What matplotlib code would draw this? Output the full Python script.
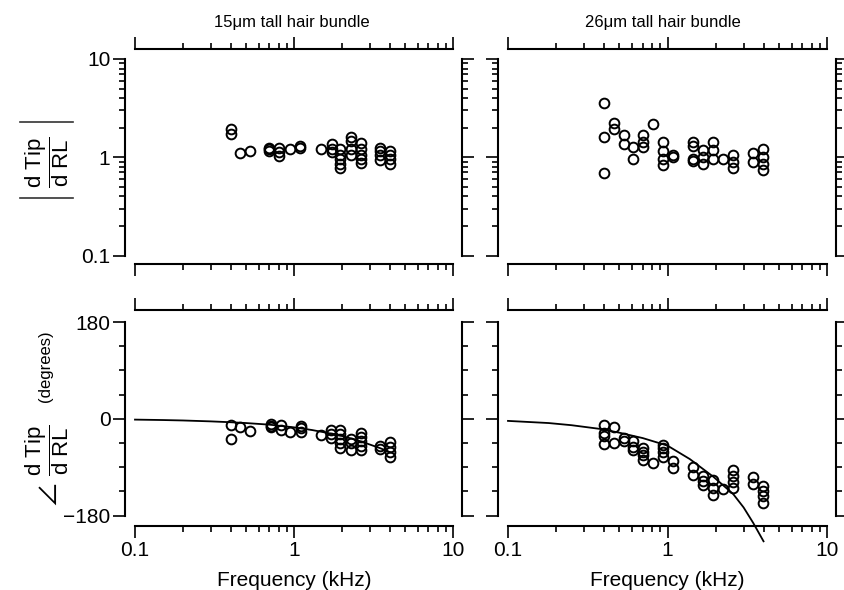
import numpy as np
import matplotlib
matplotlib.use('Agg')
import matplotlib.pyplot as plt
from matplotlib.lines import Line2D
from matplotlib.ticker import LogLocator, MultipleLocator, FixedLocator, FixedFormatter, NullFormatter

plt.rcParams['font.family'] = ['Liberation Sans', 'DejaVu Sans']
plt.rcParams['mathtext.fontset'] = 'custom'
plt.rcParams['mathtext.rm'] = 'Liberation Sans'
plt.rcParams['mathtext.it'] = 'Liberation Sans:italic'
plt.rcParams['mathtext.bf'] = 'Liberation Sans:bold'

# ---------------- data ----------------
titles = ['15\u03bcm tall hair bundle', '26\u03bcm tall hair bundle']
xlabel = 'Frequency (kHz)'

# 15 um bundle: magnitude |dTip/dRL|
mag15_f = [0.40, 0.40, 0.46, 0.53, 0.70, 0.70, 0.70, 0.81, 0.81, 0.81, 0.94, 1.09, 1.09,
           1.47, 1.74, 1.74, 1.74, 1.96, 1.96, 1.96, 1.96, 1.96, 2.27, 2.27, 2.27, 2.27,
           2.63, 2.63, 2.63, 2.63, 2.63, 3.45, 3.45, 3.45, 3.45, 4.0, 4.0, 4.0, 4.0]
mag15_v = [1.93, 1.72, 1.10, 1.15, 1.25, 1.20, 1.17, 1.25, 1.12, 1.03, 1.20, 1.30, 1.25,
           1.22, 1.35, 1.22, 1.12, 1.20, 1.05, 0.95, 0.85, 0.77, 1.60, 1.45, 1.20, 1.05,
           1.40, 1.20, 1.05, 0.95, 0.87, 1.25, 1.15, 1.05, 0.93, 1.15, 1.05, 0.95, 0.85]

# 15 um bundle: phase (degrees)
ph15_f = [0.40, 0.40, 0.46, 0.53, 0.72, 0.72, 0.72, 0.83, 0.83, 0.95, 1.11, 1.11, 1.11,
          1.47, 1.70, 1.70, 1.70, 1.96, 1.96, 1.96, 1.96, 1.96, 2.27, 2.27, 2.27,
          2.63, 2.63, 2.63, 2.63, 2.63, 3.45, 3.45, 4.0, 4.0, 4.0, 4.0]
ph15_v = [-12, -37, -16, -22, -10, -13, -16, -11, -20, -24, -14, -18, -24,
          -30, -20, -28, -35, -20, -28, -38, -46, -54, -38, -46, -58,
          -26, -34, -42, -50, -58, -50, -56, -44, -52, -62, -72]

fit15_f = [0.1, 0.15, 0.2, 0.3, 0.4, 0.5, 0.7, 1.0, 1.3, 1.6, 2.0, 2.5, 3.0, 3.5, 4.0]
fit15_v = [-1.6, -2.4, -3.2, -4.9, -6.5, -8, -11, -16, -21, -26, -32, -40, -48, -55, -62]

# 26 um bundle: magnitude
mag26_f = [0.40, 0.40, 0.40, 0.46, 0.46, 0.53, 0.53, 0.61, 0.61, 0.70, 0.70, 0.70, 0.81,
           0.94, 0.94, 0.94, 0.94, 1.09, 1.09, 1.45, 1.45, 1.45, 1.45, 1.68, 1.68, 1.68,
           1.94, 1.94, 1.94, 2.24, 2.59, 2.59, 2.59, 3.42, 3.42, 3.98, 3.98, 3.98, 3.98]
mag26_v = [3.6, 1.59, 0.69, 2.24, 1.93, 1.68, 1.35, 1.26, 0.95, 1.68, 1.43, 1.26, 2.2,
           1.43, 1.16, 0.97, 0.83, 1.05, 1.0, 1.43, 1.29, 0.95, 0.91, 1.18, 1.0, 0.86,
           1.43, 1.18, 0.95, 0.95, 1.05, 0.9, 0.77, 1.1, 0.9, 1.2, 1.0, 0.86, 0.74]

# 26 um bundle: phase
ph26_f = [0.40, 0.40, 0.40, 0.40, 0.46, 0.46, 0.53, 0.53, 0.61, 0.61, 0.61, 0.70, 0.70,
          0.70, 0.70, 0.81, 0.94, 0.94, 0.94, 0.94, 1.09, 1.09, 1.45, 1.45, 1.68, 1.68,
          1.68, 1.94, 1.94, 1.94, 2.24, 2.59, 2.59, 2.59, 2.59, 3.42, 3.42,
          3.98, 3.98, 3.98, 3.98]
ph26_v = [-12, -27, -33, -47, -16, -45, -36, -42, -42, -52, -59, -55, -61,
          -68, -76, -83, -48, -55, -62, -71, -79, -92, -90, -104, -107, -115,
          -123, -114, -128, -142, -130, -96, -106, -118, -129, -109, -122,
          -126, -135, -144, -156]

fit26_f = [0.1, 0.18, 0.25, 0.38, 0.5, 0.7, 1.0, 1.38, 1.94, 2.58, 3.0, 3.45, 4.0]
fit26_v = [-4, -8, -12, -19, -26, -36, -50, -75, -108, -140, -165, -194, -228]

mag_ticks = [0.1, 1, 10]
mag_ticklabels = ['0.1', '1', '10']
ph_ticks = [-180, 0, 180]
ph_ticklabels = ['\u2212180', '0', '180']
x_ticks = [0.1, 1, 10]
x_ticklabels = ['0.1', '1', '10']

# ---------------- figure ----------------
W, H = 844, 590
fig = plt.figure(figsize=(W / 100, H / 100), dpi=100)
PX = 72 / 100.0


def rect(x0, y0, x1, y1):
    return [x0 / W, 1 - y1 / H, (x1 - x0) / W, (y1 - y0) / H]


def fx(x):
    return x / W


def fy(y):
    return 1 - y / H


ax_tl = fig.add_axes(rect(135, 59, 453, 255.5))
ax_tr = fig.add_axes(rect(508, 59, 827, 255.5))
ax_bl = fig.add_axes(rect(135, 322, 453, 515.5))
ax_br = fig.add_axes(rect(508, 322, 827, 515.5))

LW = 1.5
TICK_FS = 15


def style(ax, log_y, xlab, ylab, offs):
    ax.set_xscale('log')
    ax.set_xlim(0.1, 10)
    if log_y:
        ax.set_yscale('log')
        ax.set_ylim(0.1, 10)
        ax.yaxis.set_major_locator(FixedLocator(mag_ticks))
        ax.yaxis.set_major_formatter(FixedFormatter(mag_ticklabels))
        ax.yaxis.set_minor_locator(LogLocator(base=10, subs=np.arange(2, 10)))
        ax.yaxis.set_minor_formatter(NullFormatter())
    else:
        ax.set_ylim(-180, 180)
        ax.yaxis.set_major_locator(FixedLocator(ph_ticks))
        ax.yaxis.set_major_formatter(FixedFormatter(ph_ticklabels))
        ax.yaxis.set_minor_locator(MultipleLocator(45))
    ax.xaxis.set_major_locator(FixedLocator(x_ticks))
    ax.xaxis.set_major_formatter(FixedFormatter(x_ticklabels))
    ax.xaxis.set_minor_locator(LogLocator(base=10, subs=np.arange(2, 10)))
    ax.xaxis.set_minor_formatter(NullFormatter())
    for side, o in offs.items():
        sp = ax.spines[side]
        sp.set_position(('outward', o * PX))
        sp.set_linewidth(LW)
        sp.set_capstyle('projecting')
    ax.spines['left'].set_bounds(*ax.get_ylim())
    ax.spines['right'].set_bounds(*ax.get_ylim())
    ax.spines['top'].set_bounds(*ax.get_xlim())
    ax.spines['bottom'].set_bounds(*ax.get_xlim())
    ax.tick_params(which='both', direction='out', top=True, right=True,
                   labeltop=False, labelright=False,
                   labelbottom=xlab, labelleft=ylab, width=1.2,
                   labelsize=TICK_FS, pad=2)
    ax.tick_params(which='major', length=8.5)
    ax.tick_params(which='minor', length=4.5)
    ax.patch.set_visible(False)


top_offs = dict(left=10, right=9, top=10, bottom=8)
bot_offs = dict(left=10, right=9, top=12, bottom=10.5)

style(ax_tl, True, False, True, top_offs)
style(ax_tr, True, False, False, top_offs)
style(ax_bl, False, True, True, bot_offs)
style(ax_br, False, True, False, bot_offs)

mk = dict(ls='none', marker='o', ms=7, mfc='none', mec='black', mew=1.4, clip_on=False)
ax_tl.plot(mag15_f, mag15_v, **mk)
ax_tr.plot(mag26_f, mag26_v, **mk)
ax_bl.plot(fit15_f, fit15_v, color='black', lw=1.3, clip_on=False)
ax_bl.plot(ph15_f, ph15_v, **mk)
ax_br.plot(fit26_f, fit26_v, color='black', lw=1.3, clip_on=False)
ax_br.plot(ph26_f, ph26_v, **mk)

# titles
fig.text(fx(292), fy(22), titles[0], ha='center', va='center', fontsize=12)
fig.text(fx(663), fy(22), titles[1], ha='center', va='center', fontsize=12)
# x labels
fig.text(fx(294), fy(580), xlabel, ha='center', va='center', fontsize=15)
fig.text(fx(667), fy(580), xlabel, ha='center', va='center', fontsize=15)

frac = r'$\dfrac{\mathrm{d\ Tip}}{\mathrm{d\ RL}}$'

# y label (magnitude): fraction inside absolute-value bars
fig.text(fx(47), fy(162), frac,
         rotation=90, ha='center', va='center', fontsize=16)
for yb in (122, 198):
    fig.add_artist(Line2D([fx(20), fx(73)], [fy(yb), fy(yb)],
                          transform=fig.transFigure, color='#333333', lw=1.2))

# y label (phase)
fig.text(fx(47), fy(450), frac,
         rotation=90, ha='center', va='center', fontsize=16)
fig.text(fx(48), fy(492), '\u2220', family=['Noto Sans CJK JP', 'DejaVu Sans'],
         rotation=90, ha='center', va='center', fontsize=19)
fig.text(fx(46), fy(366), '(degrees)',
         rotation=90, ha='center', va='center', fontsize=12)

fig.savefig('out.png', dpi=100)
